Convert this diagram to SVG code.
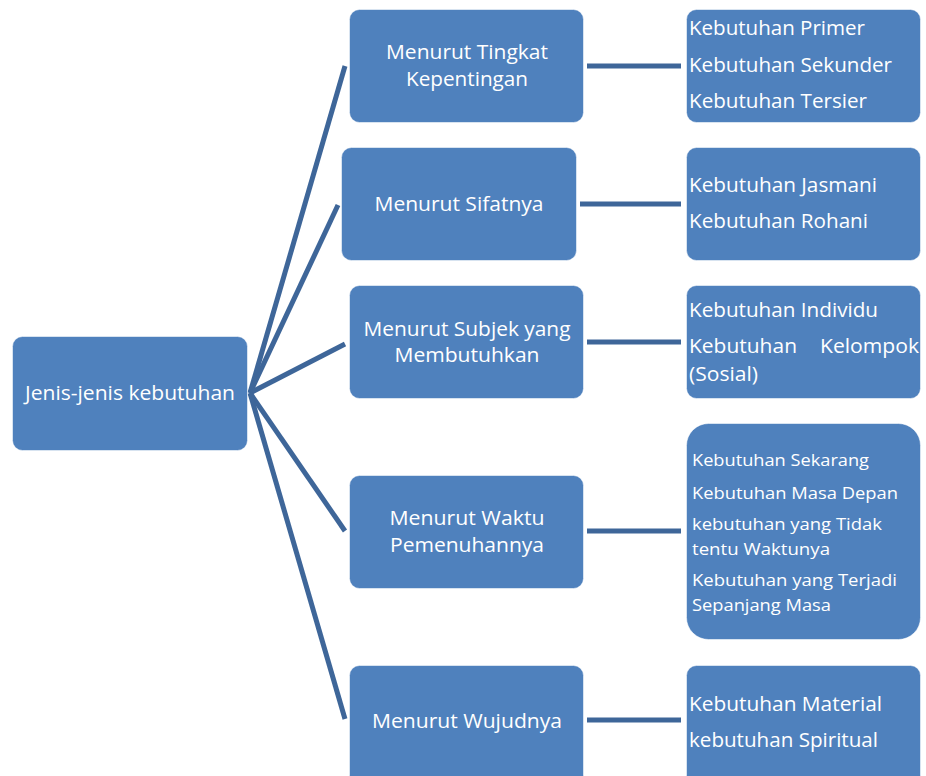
<svg xmlns="http://www.w3.org/2000/svg" width="926" height="776" viewBox="0 0 926 776">
  <style>
    .box { fill: #4f81bd; stroke: #ffffff; stroke-opacity: 0.55; stroke-width: 1; }
    .lbl { fill: #ffffff; font-family: "Open Sans", "Noto Sans", "Liberation Sans", sans-serif; font-size: 20px; }
    .mid { text-anchor: middle; }
    .sm { font-size: 17px; }
    .conn { stroke: #3e6699; stroke-width: 5; fill: none; stroke-linecap: butt; }
  </style>
  <rect width="926" height="776" fill="#ffffff"/>

  <!-- connectors -->
  <g id="connectors">
    <line class="conn" x1="250" y1="393" x2="345" y2="66"/>
    <line class="conn" x1="250" y1="393" x2="338" y2="205"/>
    <line class="conn" x1="250" y1="393" x2="345" y2="344"/>
    <line class="conn" x1="250" y1="393" x2="345" y2="531"/>
    <line class="conn" x1="250" y1="393" x2="345" y2="719"/>
    <line class="conn" x1="587" y1="66" x2="681" y2="66"/>
    <line class="conn" x1="580" y1="204" x2="681" y2="204"/>
    <line class="conn" x1="587" y1="342" x2="681" y2="342"/>
    <line class="conn" x1="587" y1="531" x2="681" y2="531"/>
    <line class="conn" x1="587" y1="720" x2="681" y2="720"/>
  </g>

  <!-- root -->
  <g id="root">
    <rect class="box" x="12.5" y="336.5" width="235" height="114" rx="10"/>
    <text class="lbl mid" x="130" y="400" textLength="210" lengthAdjust="spacingAndGlyphs">Jenis-jenis kebutuhan</text>
  </g>

  <!-- categories -->
  <g id="cat-kepentingan">
    <rect class="box" x="349.5" y="9.5" width="234" height="113" rx="10"/>
    <text class="lbl mid" x="467" y="59" textLength="162" lengthAdjust="spacingAndGlyphs">Menurut Tingkat</text>
    <text class="lbl mid" x="467" y="86" textLength="122" lengthAdjust="spacingAndGlyphs">Kepentingan</text>
  </g>
  <g id="cat-sifat">
    <rect class="box" x="341.5" y="147.5" width="235" height="113" rx="10"/>
    <text class="lbl mid" x="459" y="211" textLength="169" lengthAdjust="spacingAndGlyphs">Menurut Sifatnya</text>
  </g>
  <g id="cat-subjek">
    <rect class="box" x="349.5" y="285.5" width="234" height="113" rx="10"/>
    <text class="lbl mid" x="467" y="336" textLength="207" lengthAdjust="spacingAndGlyphs">Menurut Subjek yang</text>
    <text class="lbl mid" x="467" y="362" textLength="145" lengthAdjust="spacingAndGlyphs">Membutuhkan</text>
  </g>
  <g id="cat-waktu">
    <rect class="box" x="349.5" y="475.5" width="234" height="113" rx="10"/>
    <text class="lbl mid" x="467" y="525" textLength="155" lengthAdjust="spacingAndGlyphs">Menurut Waktu</text>
    <text class="lbl mid" x="467" y="552" textLength="154" lengthAdjust="spacingAndGlyphs">Pemenuhannya</text>
  </g>
  <g id="cat-wujud">
    <rect class="box" x="349.5" y="665.5" width="234" height="120" rx="10"/>
    <text class="lbl mid" x="467" y="728" textLength="190" lengthAdjust="spacingAndGlyphs">Menurut Wujudnya</text>
  </g>

  <!-- details -->
  <g id="det-kepentingan">
    <rect class="box" x="686.5" y="9.5" width="234" height="113" rx="10"/>
    <text class="lbl" x="689" y="35" textLength="176" lengthAdjust="spacingAndGlyphs">Kebutuhan Primer</text>
    <text class="lbl" x="689" y="72" textLength="203" lengthAdjust="spacingAndGlyphs">Kebutuhan Sekunder</text>
    <text class="lbl" x="689" y="108" textLength="178" lengthAdjust="spacingAndGlyphs">Kebutuhan Tersier</text>
  </g>
  <g id="det-sifat">
    <rect class="box" x="686.5" y="147.5" width="234" height="113" rx="10"/>
    <text class="lbl" x="689" y="192" textLength="188" lengthAdjust="spacingAndGlyphs">Kebutuhan Jasmani</text>
    <text class="lbl" x="689" y="228" textLength="179" lengthAdjust="spacingAndGlyphs">Kebutuhan Rohani</text>
  </g>
  <g id="det-subjek">
    <rect class="box" x="686.5" y="285.5" width="234" height="113" rx="10"/>
    <text class="lbl" x="689" y="317" textLength="189" lengthAdjust="spacingAndGlyphs">Kebutuhan Individu</text>
    <text class="lbl" x="689" y="353" textLength="108" lengthAdjust="spacingAndGlyphs">Kebutuhan</text>
    <text class="lbl" x="820" y="353" textLength="99" lengthAdjust="spacingAndGlyphs">Kelompok</text>
    <text class="lbl" x="689" y="381" textLength="69" lengthAdjust="spacingAndGlyphs">(Sosial)</text>
  </g>
  <g id="det-waktu">
    <rect class="box" x="686.5" y="423.5" width="234" height="216" rx="22"/>
    <text class="lbl sm" x="692" y="466" textLength="177" lengthAdjust="spacingAndGlyphs">Kebutuhan Sekarang</text>
    <text class="lbl sm" x="692" y="499" textLength="206" lengthAdjust="spacingAndGlyphs">Kebutuhan Masa Depan</text>
    <text class="lbl sm" x="692" y="530" textLength="190" lengthAdjust="spacingAndGlyphs">kebutuhan yang Tidak</text>
    <text class="lbl sm" x="692" y="555" textLength="138" lengthAdjust="spacingAndGlyphs">tentu Waktunya</text>
    <text class="lbl sm" x="692" y="586" textLength="205" lengthAdjust="spacingAndGlyphs">Kebutuhan yang Terjadi</text>
    <text class="lbl sm" x="692" y="611" textLength="139" lengthAdjust="spacingAndGlyphs">Sepanjang Masa</text>
  </g>
  <g id="det-wujud">
    <rect class="box" x="686.5" y="665.5" width="234" height="120" rx="10"/>
    <text class="lbl" x="689" y="711" textLength="193" lengthAdjust="spacingAndGlyphs">Kebutuhan Material</text>
    <text class="lbl" x="689" y="747" textLength="189" lengthAdjust="spacingAndGlyphs">kebutuhan Spiritual</text>
  </g>
</svg>
